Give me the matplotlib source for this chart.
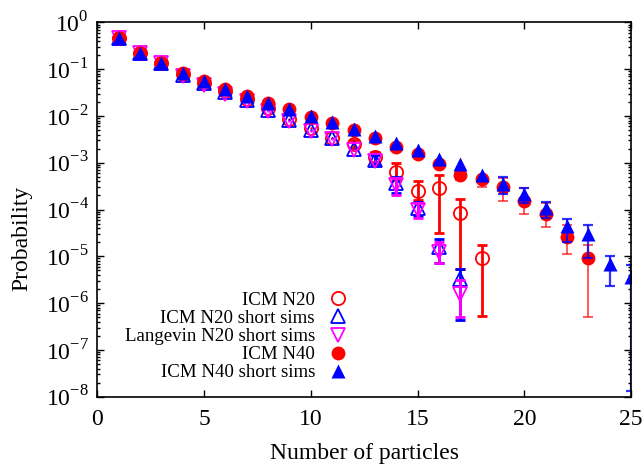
import numpy as np
import matplotlib
matplotlib.use("Agg")
import matplotlib.pyplot as plt
from matplotlib.ticker import LogLocator, FuncFormatter, NullFormatter, MultipleLocator, NullLocator


# -----------------------------
# DATA
# -----------------------------
x_n20 = np.arange(1, 19)
icm_n20 = [0.455, 0.218, 0.133, 0.0786, 0.0517, 0.0340, 0.0230, 0.0148, 0.00859,
           0.00543, 0.00332, 0.00247, 0.00134, 0.000642, 0.000255, 0.000284, 8.6e-5, 9.1e-6]
icm_n20_lo = [0.455, 0.218, 0.133, 0.0786, 0.0517, 0.0340, 0.0230, 0.0148, 0.00859,
              0.00543, 0.00332, 0.00206, 0.00105, 0.000427, 0.000160, 3.1e-5, 5.5e-6, 5.3e-7]
icm_n20_hi = [0.455, 0.218, 0.133, 0.0786, 0.0517, 0.0340, 0.0230, 0.0148, 0.00859,
              0.00543, 0.00332, 0.00305, 0.00172, 0.00100, 0.000412, 0.000546, 0.000168, 1.74e-5]

x_n20s = np.arange(1, 18)
icm_n20s = [0.455, 0.218, 0.133, 0.0767, 0.0505, 0.0324, 0.0219, 0.0134, 0.00817,
            0.0050, 0.00337, 0.00193, 0.00114, 0.000363, 0.000109, 1.56e-5, 3.3e-6]
icm_n20s_lo = [0.455, 0.218, 0.133, 0.0767, 0.0505, 0.0324, 0.0219, 0.0134, 0.00817,
               0.0050, 0.00337, 0.00193, 0.00089, 0.000229, 7.3e-5, 7.3e-6, 4.35e-7]
icm_n20s_hi = [0.455, 0.218, 0.133, 0.0767, 0.0505, 0.0324, 0.0219, 0.0134, 0.00817,
               0.0050, 0.00337, 0.00193, 0.00146, 0.000500, 0.000147, 2.3e-5, 5.5e-6]

lang_n20s = [0.455, 0.218, 0.133, 0.073, 0.0469, 0.0301, 0.0208, 0.0127, 0.00778,
             0.00488, 0.00321, 0.00187, 0.00109, 0.000334, 9.8e-5, 1.25e-5, 1.6e-6]
lang_n20s_lo = [0.455, 0.218, 0.133, 0.073, 0.0469, 0.0301, 0.0208, 0.0127, 0.00778,
                0.00488, 0.00321, 0.00187, 0.00109, 0.000204, 6.6e-5, 7.3e-6, 5.1e-7]
lang_n20s_hi = [0.455, 0.218, 0.133, 0.073, 0.0469, 0.0301, 0.0208, 0.0127, 0.00778,
                0.00488, 0.00321, 0.00187, 0.00109, 0.000471, 0.000138, 2.05e-5, 3.1e-6]

x_n40 = np.arange(1, 24)
icm_n40 = [0.455, 0.218, 0.133, 0.0813, 0.0557, 0.0376, 0.0266, 0.0191, 0.0138, 0.00933,
           0.00716, 0.0050, 0.00342, 0.00220, 0.00153, 0.000938, 0.000546, 0.000442,
           0.000307, 0.000152, 7.9e-5, 2.6e-5, 9.1e-6]
icm_n40_lo = [0.455, 0.218, 0.133, 0.0813, 0.0557, 0.0376, 0.0266, 0.0191, 0.0138, 0.00933,
              0.00716, 0.0050, 0.00342, 0.00220, 0.00153, 0.000938, 0.000427, 0.000307,
              0.000154, 8.0e-5, 4.3e-5, 1.12e-5, 5.1e-7]
icm_n40_hi = [0.455, 0.218, 0.133, 0.0813, 0.0557, 0.0376, 0.0266, 0.0191, 0.0138, 0.00933,
              0.00716, 0.0050, 0.00342, 0.00220, 0.00153, 0.000938, 0.000698, 0.000502,
              0.000470, 0.000288, 0.000140, 4.67e-5, 1.74e-5]

x_n40s = np.arange(1, 26)
icm_n40s = [0.455, 0.218, 0.133, 0.0813, 0.0557, 0.0376, 0.0266, 0.0191, 0.0138, 0.00995,
            0.00752, 0.00525, 0.00372, 0.0026, 0.00187, 0.00118, 0.000938, 0.000546,
            0.000351, 0.000214, 0.000109, 4.4e-5, 3.0e-5, 6.8e-6, 3.6e-6]
icm_n40s_lo = [0.455, 0.218, 0.133, 0.0813, 0.0557, 0.0376, 0.0266, 0.0191, 0.0138, 0.00995,
               0.00752, 0.00525, 0.00372, 0.0026, 0.00187, 0.00118, 0.000938, 0.000546,
               0.000214, 0.000136, 6.5e-5, 2.05e-5, 9.1e-6, 2.3e-6, 1.3e-8]
icm_n40s_hi = [0.455, 0.218, 0.133, 0.0813, 0.0557, 0.0376, 0.0266, 0.0191, 0.0138, 0.00995,
               0.00752, 0.00525, 0.00372, 0.0026, 0.00187, 0.00118, 0.000938, 0.000546,
               0.000490, 0.000284, 0.000147, 6.4e-5, 4.6e-5, 1.03e-5, 6.5e-6]

labels = ["ICM N20", "ICM N20 short sims", "Langevin N20 short sims",
          "ICM N40", "ICM N40 short sims"]


# -----------------------------
# STYLE
# -----------------------------
plt.rcParams["font.family"] = ["Liberation Serif", "DejaVu Serif"]
plt.rcParams["mathtext.fontset"] = "custom"
plt.rcParams["mathtext.rm"] = "Liberation Serif"
plt.rcParams["font.size"] = 17

RED = "#ff0000"
BLUE = "#0000ff"
MAG = "#ff00ff"


def err_bars(ax, x, y, lo, hi, color, lw, cap, alpha=1.0):
    x = np.asarray(x)
    y = np.asarray(y)
    lo = np.asarray(lo)
    hi = np.asarray(hi)
    m = (hi > y) | (lo < y)
    ax.errorbar(x[m], y[m], yerr=[y[m] - lo[m], hi[m] - y[m]], fmt="none",
                ecolor=color, elinewidth=lw, capsize=cap, capthick=lw, alpha=alpha)


# -----------------------------
# FIGURE
# -----------------------------
fig = plt.figure(figsize=(6.44, 4.67), dpi=100)
ax = fig.add_axes([0.151, 0.1505, 0.829, 0.8015])

# ICM N20 (open circles)
err_bars(ax, x_n20, icm_n20, icm_n20_lo, icm_n20_hi, RED, 2.0, 3.5)
h1, = ax.plot(x_n20, icm_n20, "o", ms=9.5, mfc="none", mec=RED, mew=1.3, label=labels[0])
ax.plot(x_n20, icm_n20, ".", ms=1.5, color=RED)

# ICM N20 short sims (open up triangles)
err_bars(ax, x_n20s, icm_n20s, icm_n20s_lo, icm_n20s_hi, BLUE, 2.0, 3.5)
h2, = ax.plot(x_n20s, icm_n20s, "^", ms=9.5, mfc="none", mec=BLUE, mew=1.3, label=labels[1])
ax.plot(x_n20s, icm_n20s, ".", ms=1.5, color=BLUE)

# Langevin N20 short sims (open down triangles)
err_bars(ax, x_n20s, lang_n20s, lang_n20s_lo, lang_n20s_hi, MAG, 2.0, 3.5)
h3, = ax.plot(x_n20s, lang_n20s, "v", ms=9.5, mfc="none", mec=MAG, mew=1.3, label=labels[2])
ax.plot(x_n20s, lang_n20s, ".", ms=1.5, color=MAG)

# ICM N40 (filled circles)
err_bars(ax, x_n40, icm_n40, icm_n40_lo, icm_n40_hi, RED, 1.2, 3.5, alpha=0.75)
h4, = ax.plot(x_n40, icm_n40, "o", ms=10, color=RED, mec="none", label=labels[3])

# ICM N40 short sims (filled up triangles)
err_bars(ax, x_n40s, icm_n40s, icm_n40s_lo, icm_n40s_hi, BLUE, 1.6, 3.5, alpha=0.8)
h5, = ax.plot(x_n40s, icm_n40s, "^", ms=10, color=BLUE, mec="none", label=labels[4])

# axes
ax.set_yscale("log")
ax.set_xlim(0, 25)
ax.set_ylim(1e-8, 1)

ax.xaxis.set_major_locator(MultipleLocator(5))
ax.xaxis.set_minor_locator(NullLocator())
ax.yaxis.set_major_locator(LogLocator(base=10, numticks=20))
ax.yaxis.set_minor_locator(LogLocator(base=10, subs=np.arange(2, 10), numticks=20))
ax.yaxis.set_minor_formatter(NullFormatter())
ax.yaxis.set_major_formatter(FuncFormatter(lambda v, _: r"$10^{%d}$" % round(np.log10(v))))

ax.tick_params(which="both", direction="in", top=True, right=True, width=1.0, labelsize=17)
ax.tick_params(which="major", length=5)
ax.tick_params(which="minor", length=2.5)
ax.tick_params(axis="x", pad=9)
ax.tick_params(axis="y", pad=6)
for s in ax.spines.values():
    s.set_linewidth(1.2)

fig.text(364 / 644, 1 - 454 / 467, "Number of particles", ha="center", va="center", fontsize=17)
fig.text(22 / 644, 1 - 238 / 467, "Probability", ha="center", va="center",
         rotation=90, fontsize=17)

ax.legend(handles=[h1, h2, h3, h4, h5], loc="center right",
          bbox_to_anchor=(347 / 644, 1 - 336.5 / 467), bbox_transform=fig.transFigure,
          frameon=False, markerfirst=False, handlelength=1.0, handletextpad=0.7,
          borderpad=0, borderaxespad=0, labelspacing=0.05, fontsize=13.6)

plt.savefig("out.png", dpi=100)
plt.close()
